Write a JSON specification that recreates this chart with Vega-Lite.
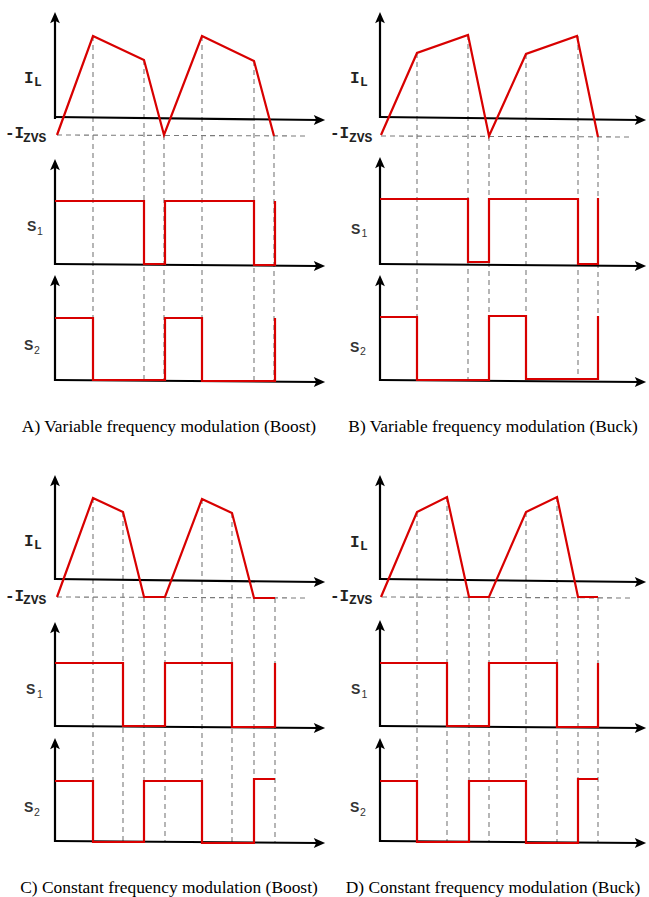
{
  "$schema": "https://vega.github.io/schema/vega-lite/v6.json",
  "width": 649,
  "height": 897,
  "autosize": {"type": "fit", "contains": "padding"},
  "padding": 0,
  "background": "white",
  "config": {"view": {"stroke": null}},
  "datasets": {
    "signals": [
      {"id": "A-IL", "i": 0, "t": 57, "v": 135}, {"id": "A-IL", "i": 1, "t": 93, "v": 36}, {"id": "A-IL", "i": 2, "t": 144, "v": 60}, {"id": "A-IL", "i": 3, "t": 164, "v": 135}, {"id": "A-IL", "i": 4, "t": 202, "v": 36}, {"id": "A-IL", "i": 5, "t": 254, "v": 61}, {"id": "A-IL", "i": 6, "t": 274, "v": 136},
      {"id": "A-S1", "i": 0, "t": 55, "v": 201}, {"id": "A-S1", "i": 1, "t": 144, "v": 201}, {"id": "A-S1", "i": 2, "t": 144, "v": 264}, {"id": "A-S1", "i": 3, "t": 165, "v": 264}, {"id": "A-S1", "i": 4, "t": 165, "v": 201}, {"id": "A-S1", "i": 5, "t": 254, "v": 201}, {"id": "A-S1", "i": 6, "t": 254, "v": 265}, {"id": "A-S1", "i": 7, "t": 275, "v": 265}, {"id": "A-S1", "i": 8, "t": 275, "v": 201},
      {"id": "A-S2", "i": 0, "t": 55, "v": 318}, {"id": "A-S2", "i": 1, "t": 93, "v": 318}, {"id": "A-S2", "i": 2, "t": 93, "v": 380}, {"id": "A-S2", "i": 3, "t": 165, "v": 380}, {"id": "A-S2", "i": 4, "t": 165, "v": 318}, {"id": "A-S2", "i": 5, "t": 202, "v": 318}, {"id": "A-S2", "i": 6, "t": 202, "v": 381}, {"id": "A-S2", "i": 7, "t": 275, "v": 381}, {"id": "A-S2", "i": 8, "t": 275, "v": 318},
      {"id": "B-IL", "i": 0, "t": 381, "v": 135}, {"id": "B-IL", "i": 1, "t": 417, "v": 53}, {"id": "B-IL", "i": 2, "t": 468, "v": 35}, {"id": "B-IL", "i": 3, "t": 489, "v": 136}, {"id": "B-IL", "i": 4, "t": 526, "v": 54}, {"id": "B-IL", "i": 5, "t": 577, "v": 36}, {"id": "B-IL", "i": 6, "t": 598, "v": 137},
      {"id": "B-S1", "i": 0, "t": 380, "v": 199}, {"id": "B-S1", "i": 1, "t": 468, "v": 199}, {"id": "B-S1", "i": 2, "t": 468, "v": 262}, {"id": "B-S1", "i": 3, "t": 489, "v": 262}, {"id": "B-S1", "i": 4, "t": 489, "v": 199}, {"id": "B-S1", "i": 5, "t": 578, "v": 199}, {"id": "B-S1", "i": 6, "t": 578, "v": 264}, {"id": "B-S1", "i": 7, "t": 598, "v": 264}, {"id": "B-S1", "i": 8, "t": 598, "v": 198},
      {"id": "B-S2", "i": 0, "t": 380, "v": 317}, {"id": "B-S2", "i": 1, "t": 417, "v": 317}, {"id": "B-S2", "i": 2, "t": 417, "v": 380}, {"id": "B-S2", "i": 3, "t": 489, "v": 380}, {"id": "B-S2", "i": 4, "t": 489, "v": 316}, {"id": "B-S2", "i": 5, "t": 526, "v": 316}, {"id": "B-S2", "i": 6, "t": 526, "v": 379}, {"id": "B-S2", "i": 7, "t": 598, "v": 379}, {"id": "B-S2", "i": 8, "t": 598, "v": 316},
      {"id": "C-IL", "i": 0, "t": 57, "v": 597}, {"id": "C-IL", "i": 1, "t": 93, "v": 498}, {"id": "C-IL", "i": 2, "t": 123, "v": 512}, {"id": "C-IL", "i": 3, "t": 144, "v": 597}, {"id": "C-IL", "i": 4, "t": 165, "v": 597}, {"id": "C-IL", "i": 5, "t": 202, "v": 499}, {"id": "C-IL", "i": 6, "t": 232, "v": 513}, {"id": "C-IL", "i": 7, "t": 254, "v": 598}, {"id": "C-IL", "i": 8, "t": 275, "v": 598},
      {"id": "C-S1", "i": 0, "t": 55, "v": 663}, {"id": "C-S1", "i": 1, "t": 123, "v": 663}, {"id": "C-S1", "i": 2, "t": 123, "v": 726}, {"id": "C-S1", "i": 3, "t": 165, "v": 726}, {"id": "C-S1", "i": 4, "t": 165, "v": 663}, {"id": "C-S1", "i": 5, "t": 232, "v": 663}, {"id": "C-S1", "i": 6, "t": 232, "v": 727}, {"id": "C-S1", "i": 7, "t": 275, "v": 727}, {"id": "C-S1", "i": 8, "t": 275, "v": 663},
      {"id": "C-S2", "i": 0, "t": 55, "v": 781}, {"id": "C-S2", "i": 1, "t": 93, "v": 781}, {"id": "C-S2", "i": 2, "t": 93, "v": 842}, {"id": "C-S2", "i": 3, "t": 144, "v": 842}, {"id": "C-S2", "i": 4, "t": 144, "v": 781}, {"id": "C-S2", "i": 5, "t": 202, "v": 781}, {"id": "C-S2", "i": 6, "t": 202, "v": 843}, {"id": "C-S2", "i": 7, "t": 254, "v": 843}, {"id": "C-S2", "i": 8, "t": 254, "v": 779}, {"id": "C-S2", "i": 9, "t": 275, "v": 779},
      {"id": "D-IL", "i": 0, "t": 381, "v": 597}, {"id": "D-IL", "i": 1, "t": 417, "v": 512}, {"id": "D-IL", "i": 2, "t": 447, "v": 497}, {"id": "D-IL", "i": 3, "t": 469, "v": 597}, {"id": "D-IL", "i": 4, "t": 489, "v": 597}, {"id": "D-IL", "i": 5, "t": 526, "v": 512}, {"id": "D-IL", "i": 6, "t": 557, "v": 497}, {"id": "D-IL", "i": 7, "t": 578, "v": 597}, {"id": "D-IL", "i": 8, "t": 598, "v": 597},
      {"id": "D-S1", "i": 0, "t": 380, "v": 663}, {"id": "D-S1", "i": 1, "t": 447, "v": 663}, {"id": "D-S1", "i": 2, "t": 447, "v": 726}, {"id": "D-S1", "i": 3, "t": 489, "v": 726}, {"id": "D-S1", "i": 4, "t": 489, "v": 663}, {"id": "D-S1", "i": 5, "t": 557, "v": 663}, {"id": "D-S1", "i": 6, "t": 557, "v": 727}, {"id": "D-S1", "i": 7, "t": 598, "v": 727}, {"id": "D-S1", "i": 8, "t": 598, "v": 663},
      {"id": "D-S2", "i": 0, "t": 380, "v": 781}, {"id": "D-S2", "i": 1, "t": 417, "v": 781}, {"id": "D-S2", "i": 2, "t": 417, "v": 842}, {"id": "D-S2", "i": 3, "t": 469, "v": 842}, {"id": "D-S2", "i": 4, "t": 469, "v": 781}, {"id": "D-S2", "i": 5, "t": 526, "v": 781}, {"id": "D-S2", "i": 6, "t": 526, "v": 843}, {"id": "D-S2", "i": 7, "t": 578, "v": 843}, {"id": "D-S2", "i": 8, "t": 578, "v": 779}, {"id": "D-S2", "i": 9, "t": 598, "v": 779}
    ],
    "axes": [
      {"t": 55, "v": 119, "t2": 55, "v2": 18}, {"t": 55, "v": 117, "t2": 319, "v2": 120},
      {"t": 55, "v": 265, "t2": 55, "v2": 165}, {"t": 55, "v": 264, "t2": 319, "v2": 266},
      {"t": 55, "v": 381, "t2": 55, "v2": 281}, {"t": 55, "v": 380, "t2": 319, "v2": 382},
      {"t": 380, "v": 118, "t2": 380, "v2": 18}, {"t": 380, "v": 117, "t2": 640, "v2": 120},
      {"t": 380, "v": 265, "t2": 380, "v2": 163}, {"t": 380, "v": 264, "t2": 640, "v2": 266},
      {"t": 380, "v": 381, "t2": 380, "v2": 281}, {"t": 380, "v": 380, "t2": 640, "v2": 382},
      {"t": 55, "v": 580, "t2": 55, "v2": 481}, {"t": 55, "v": 579, "t2": 319, "v2": 582},
      {"t": 55, "v": 727, "t2": 55, "v2": 628}, {"t": 55, "v": 726, "t2": 319, "v2": 728},
      {"t": 55, "v": 842, "t2": 55, "v2": 744}, {"t": 55, "v": 841, "t2": 319, "v2": 843},
      {"t": 380, "v": 580, "t2": 380, "v2": 481}, {"t": 380, "v": 579, "t2": 640, "v2": 582},
      {"t": 380, "v": 727, "t2": 380, "v2": 626}, {"t": 380, "v": 726, "t2": 640, "v2": 728},
      {"t": 380, "v": 842, "t2": 380, "v2": 744}, {"t": 380, "v": 841, "t2": 640, "v2": 843}
    ],
    "arrows": [
      {"dir": "up", "t": 55, "v": 18}, {"dir": "right", "t": 319, "v": 120},
      {"dir": "up", "t": 55, "v": 165}, {"dir": "right", "t": 319, "v": 266},
      {"dir": "up", "t": 55, "v": 281}, {"dir": "right", "t": 319, "v": 382},
      {"dir": "up", "t": 380, "v": 18}, {"dir": "right", "t": 640, "v": 120},
      {"dir": "up", "t": 380, "v": 163}, {"dir": "right", "t": 640, "v": 266},
      {"dir": "up", "t": 380, "v": 281}, {"dir": "right", "t": 640, "v": 382},
      {"dir": "up", "t": 55, "v": 481}, {"dir": "right", "t": 319, "v": 582},
      {"dir": "up", "t": 55, "v": 628}, {"dir": "right", "t": 319, "v": 728},
      {"dir": "up", "t": 55, "v": 744}, {"dir": "right", "t": 319, "v": 843},
      {"dir": "up", "t": 380, "v": 481}, {"dir": "right", "t": 640, "v": 582},
      {"dir": "up", "t": 380, "v": 626}, {"dir": "right", "t": 640, "v": 728},
      {"dir": "up", "t": 380, "v": 744}, {"dir": "right", "t": 640, "v": 843}
    ],
    "guides": [
      {"t": 57, "v": 135, "t2": 308, "v2": 136}, {"t": 381, "v": 136, "t2": 633, "v2": 137},
      {"t": 57, "v": 597, "t2": 308, "v2": 598}, {"t": 382, "v": 597, "t2": 632, "v2": 598},
      {"t": 93, "v": 36, "t2": 93, "v2": 381}, {"t": 144, "v": 60, "t2": 144, "v2": 381}, {"t": 164, "v": 135, "t2": 164, "v2": 381}, {"t": 202, "v": 36, "t2": 202, "v2": 381}, {"t": 254, "v": 61, "t2": 254, "v2": 381}, {"t": 274, "v": 136, "t2": 274, "v2": 381},
      {"t": 417, "v": 53, "t2": 417, "v2": 380}, {"t": 468, "v": 35, "t2": 468, "v2": 380}, {"t": 489, "v": 136, "t2": 489, "v2": 380}, {"t": 526, "v": 54, "t2": 526, "v2": 380}, {"t": 578, "v": 36, "t2": 578, "v2": 380}, {"t": 598, "v": 137, "t2": 598, "v2": 380},
      {"t": 93, "v": 498, "t2": 93, "v2": 842}, {"t": 123, "v": 512, "t2": 123, "v2": 842}, {"t": 144, "v": 597, "t2": 144, "v2": 842}, {"t": 165, "v": 597, "t2": 165, "v2": 842}, {"t": 202, "v": 499, "t2": 202, "v2": 842}, {"t": 232, "v": 513, "t2": 232, "v2": 842}, {"t": 254, "v": 598, "t2": 254, "v2": 842}, {"t": 275, "v": 598, "t2": 275, "v2": 842},
      {"t": 417, "v": 512, "t2": 417, "v2": 842}, {"t": 447, "v": 497, "t2": 447, "v2": 842}, {"t": 469, "v": 597, "t2": 469, "v2": 842}, {"t": 489, "v": 597, "t2": 489, "v2": 842}, {"t": 526, "v": 512, "t2": 526, "v2": 842}, {"t": 557, "v": 497, "t2": 557, "v2": 842}, {"t": 578, "v": 597, "t2": 578, "v2": 842}, {"t": 598, "v": 597, "t2": 598, "v2": 842}
    ],
    "labels": [
      {"kind": "current", "text": "I", "t": 24, "v": 78}, {"kind": "current-sub", "text": "L", "t": 34, "v": 81.5},
      {"kind": "current", "text": "-I", "t": 5, "v": 133}, {"kind": "current-sub", "text": "ZVS", "t": 23, "v": 137.5},
      {"kind": "current", "text": "I", "t": 350, "v": 78}, {"kind": "current-sub", "text": "L", "t": 360, "v": 81.5},
      {"kind": "current", "text": "-I", "t": 330, "v": 133}, {"kind": "current-sub", "text": "ZVS", "t": 349, "v": 137.5},
      {"kind": "current", "text": "I", "t": 24, "v": 541}, {"kind": "current-sub", "text": "L", "t": 34, "v": 544.5},
      {"kind": "current", "text": "-I", "t": 5, "v": 596}, {"kind": "current-sub", "text": "ZVS", "t": 23, "v": 600},
      {"kind": "current", "text": "I", "t": 350, "v": 542}, {"kind": "current-sub", "text": "L", "t": 360, "v": 545.5},
      {"kind": "current", "text": "-I", "t": 330, "v": 596}, {"kind": "current-sub", "text": "ZVS", "t": 349, "v": 600},
      {"kind": "switch", "text": "S", "t": 27, "v": 227}, {"kind": "switch-sub", "text": "1", "t": 37, "v": 231.5},
      {"kind": "switch", "text": "S", "t": 24, "v": 346}, {"kind": "switch-sub", "text": "2", "t": 34, "v": 351},
      {"kind": "switch", "text": "S", "t": 351, "v": 230}, {"kind": "switch-sub", "text": "1", "t": 361.5, "v": 233.5},
      {"kind": "switch", "text": "S", "t": 350, "v": 347.5}, {"kind": "switch-sub", "text": "2", "t": 360, "v": 351.5},
      {"kind": "switch", "text": "S", "t": 26, "v": 690}, {"kind": "switch-sub", "text": "1", "t": 37, "v": 694.5},
      {"kind": "switch", "text": "S", "t": 24, "v": 807.5}, {"kind": "switch-sub", "text": "2", "t": 34, "v": 812.5},
      {"kind": "switch", "text": "S", "t": 351, "v": 690}, {"kind": "switch-sub", "text": "1", "t": 361.5, "v": 694.5},
      {"kind": "switch", "text": "S", "t": 350, "v": 808}, {"kind": "switch-sub", "text": "2", "t": 360, "v": 812.5},
      {"kind": "caption", "text": "A) Variable frequency modulation (Boost)", "t": 169, "v": 427},
      {"kind": "caption", "text": "B) Variable frequency modulation (Buck)", "t": 493, "v": 427},
      {"kind": "caption", "text": "C) Constant frequency modulation (Boost)", "t": 169, "v": 888},
      {"kind": "caption", "text": "D) Constant frequency modulation (Buck)", "t": 493, "v": 888}
    ]
  },
  "encoding": {
    "x": {"field": "t", "type": "quantitative", "scale": {"domain": [0, 649], "nice": false, "zero": false}, "axis": null},
    "y": {"field": "v", "type": "quantitative", "scale": {"domain": [0, 897], "nice": false, "zero": false, "reverse": true}, "axis": null}
  },
  "layer": [
    {
      "data": {"name": "guides"},
      "mark": {"type": "rule", "stroke": "#7a7a7a", "strokeWidth": 1.1, "strokeDash": [5, 4]},
      "encoding": {"x2": {"field": "t2"}, "y2": {"field": "v2"}}
    },
    {
      "data": {"name": "axes"},
      "mark": {"type": "rule", "stroke": "#000000", "strokeWidth": 2.2},
      "encoding": {"x2": {"field": "t2"}, "y2": {"field": "v2"}}
    },
    {
      "data": {"name": "arrows"},
      "transform": [{"filter": "datum.dir == 'up'"}],
      "mark": {"type": "point", "shape": "M0,-1L-0.8,0.85L0,0.45L0.8,0.85Z", "filled": true, "fill": "#000000", "stroke": null, "opacity": 1, "size": 150}
    },
    {
      "data": {"name": "arrows"},
      "transform": [{"filter": "datum.dir == 'right'"}],
      "mark": {"type": "point", "shape": "M1,0L-0.85,-0.8L-0.45,0L-0.85,0.8Z", "filled": true, "fill": "#000000", "stroke": null, "opacity": 1, "size": 150}
    },
    {
      "data": {"name": "signals"},
      "mark": {"type": "line", "stroke": "#d80000", "strokeWidth": 2.2, "strokeJoin": "miter"},
      "encoding": {"detail": {"field": "id"}, "order": {"field": "i", "type": "quantitative"}}
    },
    {
      "data": {"name": "labels"},
      "transform": [{"filter": "datum.kind == 'current'"}],
      "mark": {"type": "text", "align": "left", "baseline": "middle", "font": "Liberation Mono", "fontWeight": "bold", "fontSize": 16, "fill": "#222222"},
      "encoding": {"text": {"field": "text"}}
    },
    {
      "data": {"name": "labels"},
      "transform": [{"filter": "datum.kind == 'current-sub'"}],
      "mark": {"type": "text", "align": "left", "baseline": "middle", "font": "Liberation Mono", "fontWeight": "bold", "fontSize": 13, "fill": "#222222"},
      "encoding": {"text": {"field": "text"}}
    },
    {
      "data": {"name": "labels"},
      "transform": [{"filter": "datum.kind == 'switch'"}],
      "mark": {"type": "text", "align": "left", "baseline": "middle", "font": "Liberation Sans", "fontWeight": "bold", "fontSize": 14, "fill": "#333333"},
      "encoding": {"text": {"field": "text"}}
    },
    {
      "data": {"name": "labels"},
      "transform": [{"filter": "datum.kind == 'switch-sub'"}],
      "mark": {"type": "text", "align": "left", "baseline": "middle", "font": "Liberation Sans", "fontSize": 10.5, "fill": "#333333"},
      "encoding": {"text": {"field": "text"}}
    },
    {
      "data": {"name": "labels"},
      "transform": [{"filter": "datum.kind == 'caption'"}],
      "mark": {"type": "text", "align": "center", "baseline": "middle", "font": "Liberation Serif", "fontSize": 17.4, "fill": "#000000"},
      "encoding": {"text": {"field": "text"}}
    }
  ]
}
